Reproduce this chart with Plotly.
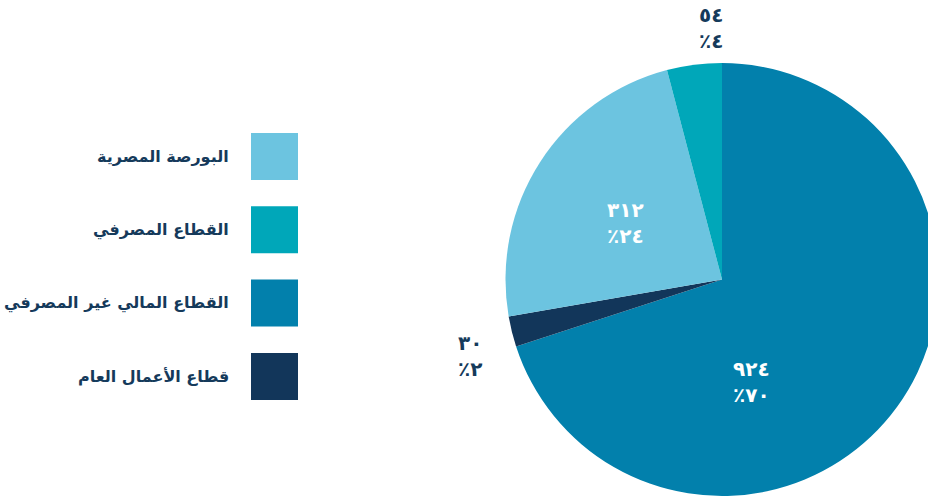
import plotly.graph_objects as go

# ---- data ----
slice_labels = ["القطاع المالي غير المصرفي", "قطاع الأعمال العام", "البورصة المصرية", "القطاع المصرفي"]
slice_values = [924, 30, 312, 54]
slice_colors = ["#0280AC", "#12365A", "#6CC4E0", "#00A7B9"]

legend_order = ["البورصة المصرية", "القطاع المصرفي", "القطاع المالي غير المصرفي", "قطاع الأعمال العام"]

# ---- style / layout settings ----
NAVY = "#153A5B"
FONT = "DejaVu Sans"
W, H = 940, 498
cx, cy, r = 722, 279.5, 216.5
# label block centres relative to the pie centre (pixels), and text colour
label_offsets = [(29, 102), (-252, 76), (-97, -57), (-11, -252)]
label_colors = ["white", NAVY, "white", NAVY]

AR_DIGITS = str.maketrans("0123456789", "٠١٢٣٤٥٦٧٨٩")


def ar(n):
    return str(n).translate(AR_DIGITS)


total = sum(slice_values)
percents = [round(v / total * 100) for v in slice_values]
slice_texts = [f"<b>{ar(v)}</b><br><b>٪{ar(p)}</b>" for v, p in zip(slice_values, percents)]

fig = go.Figure()
fig.add_trace(go.Pie(
    labels=slice_labels,
    values=slice_values,
    textinfo="none",
    marker=dict(colors=slice_colors, line=dict(width=0)),
    sort=False,
    direction="clockwise",
    rotation=0,
    hole=0,
    showlegend=False,
    automargin=False,
    domain=dict(x=[(cx - r) / W, (cx + r) / W],
                y=[1 - (cy + r) / H, 1 - (cy - r) / H]),
))

for txt, (dx, dy), col in zip(slice_texts, label_offsets, label_colors):
    fig.add_annotation(xref="paper", yref="paper",
                       x=(cx + dx) / W, y=1 - (cy + dy) / H,
                       xanchor="center", yanchor="middle",
                       text=txt, showarrow=False, align="center",
                       font=dict(family=FONT, size=20, color=col))

# custom RTL legend (swatch to the right of the text)
color_of = dict(zip(slice_labels, slice_colors))
legend_top, step, sw = 133, 73.3, 47
sw_x0 = 251
for i, name in enumerate(legend_order):
    y0 = legend_top + i * step
    fig.add_shape(type="rect", xref="paper", yref="paper",
                  x0=sw_x0 / W, x1=(sw_x0 + sw) / W,
                  y0=1 - (y0 + sw) / H, y1=1 - y0 / H,
                  fillcolor=color_of[name], line=dict(width=0))
    fig.add_annotation(xref="paper", yref="paper",
                       x=231 / W, y=1 - (y0 + sw / 2) / H,
                       xanchor="right", yanchor="middle",
                       text=f"<b>{name}</b>", showarrow=False,
                       font=dict(family=FONT, size=16, color=NAVY))

fig.update_layout(
    width=W, height=H,
    margin=dict(l=0, r=0, t=0, b=0),
    paper_bgcolor="white",
    plot_bgcolor="white",
)

fig.write_html(
    "out.html",
    config={"displayModeBar": False},
    post_script="document.body.style.margin='0';document.body.style.overflow='hidden';",
)
